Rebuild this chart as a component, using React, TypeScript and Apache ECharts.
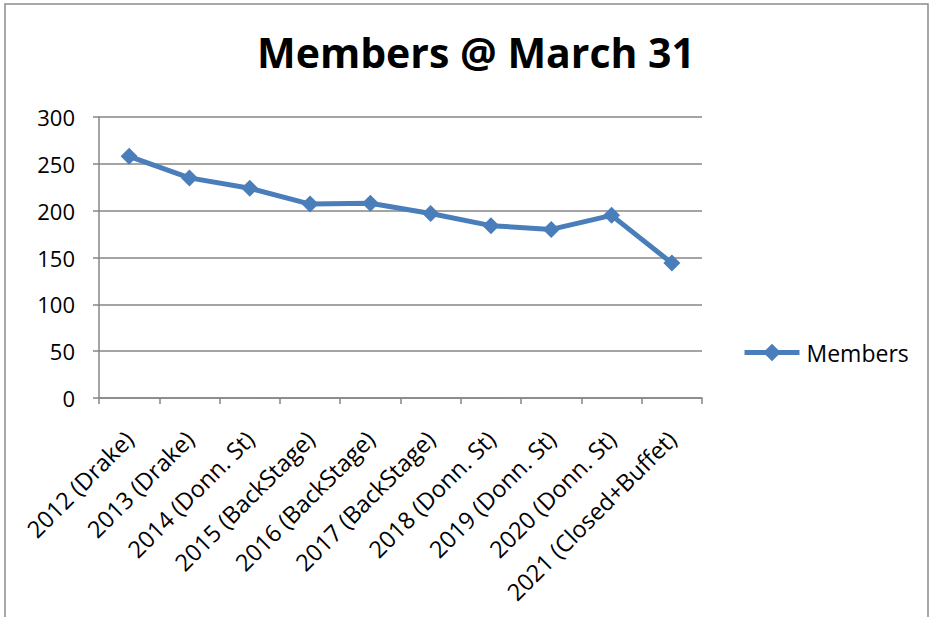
import React, { useEffect, useRef } from "react";
import * as echarts from "echarts";

const categories = [
  "2012 (Drake)",
  "2013 (Drake)",
  "2014 (Donn. St)",
  "2015 (BackStage)",
  "2016 (BackStage)",
  "2017 (BackStage)",
  "2018 (Donn. St)",
  "2019 (Donn. St)",
  "2020 (Donn. St)",
  "2021 (Closed+Buffet)",
];
const members = [258, 235, 224, 207, 208, 197, 184, 180, 195, 144];
const seriesName = "Members";
const titleText = "Members @ March 31";

export default function App() {
  const ref = useRef<HTMLDivElement>(null);
  useEffect(() => {
    document.body.style.margin = "0";
    const chart = echarts.init(ref.current!, null, { renderer: "svg" });
    const font = "'Open Sans', sans-serif";
    chart.setOption({
      animation: false,
      backgroundColor: "#ffffff",
      title: {
        text: titleText,
        left: 471,
        top: 26,
        textAlign: "center",
        textStyle: { fontFamily: font, fontSize: 41, fontWeight: "bold", color: "#000" },
      },
      graphic: [
        {
          type: "rect",
          shape: { x: 5, y: 4, width: 923, height: 700 },
          style: { fill: "none", stroke: "#8c8c8c", lineWidth: 1.5 },
          silent: true,
        },
      ],
      legend: {
        left: 742,
        top: 341,
        padding: 0,
        itemWidth: 55,
        itemHeight: 22,
        itemGap: 10,
        lineStyle: { width: 5 },
        textStyle: { fontFamily: font, fontSize: 23, color: "#000", padding: [0, 0, 0, 2] },
        data: [seriesName],
      },
      grid: { left: 99, right: 229, top: 117, bottom: 219, containLabel: false },
      xAxis: {
        type: "category",
        data: categories,
        boundaryGap: true,
        axisLine: { lineStyle: { color: "#868686", width: 1.5 } },
        axisTick: { show: true, length: 6, lineStyle: { color: "#868686", width: 1.5 } },
        axisLabel: {
          rotate: 45,
          interval: 0,
          fontFamily: font,
          fontSize: 23.5,
          color: "#000",
          margin: 37,
        },
      },
      yAxis: {
        type: "value",
        min: 0,
        max: 300,
        interval: 50,
        axisLine: { show: true, lineStyle: { color: "#868686", width: 1.5 } },
        axisTick: { show: true, length: 6, lineStyle: { color: "#868686", width: 1.5 } },
        splitLine: { lineStyle: { color: "#868686", width: 1.5 } },
        axisLabel: { fontFamily: font, fontSize: 22, color: "#000", margin: 24 },
      },
      series: [
        {
          name: seriesName,
          type: "line",
          data: members,
          symbol: "diamond",
          symbolSize: 17,
          lineStyle: { color: "#4a7ebb", width: 5 },
          itemStyle: { color: "#4a7ebb" },
        },
      ],
    });
    return () => chart.dispose();
  }, []);
  return <div ref={ref} style={{ width: 931, height: 617 }} />;
}
